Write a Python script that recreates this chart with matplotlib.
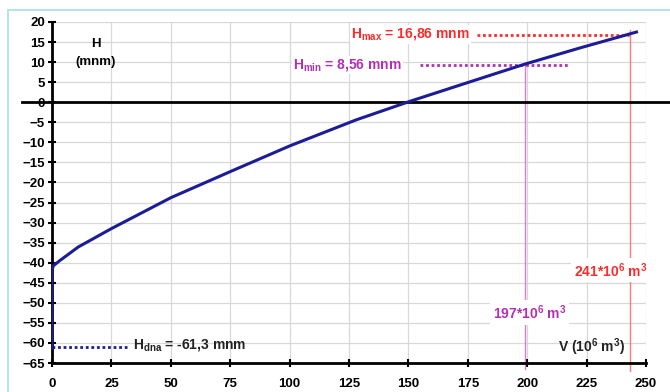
import numpy as np
import matplotlib
matplotlib.use('Agg')
import matplotlib.pyplot as plt
from matplotlib.patches import Rectangle

plt.rcParams['font.family'] = 'Liberation Sans'
plt.rcParams['font.weight'] = 'bold'
plt.rcParams['mathtext.fontset'] = 'custom'
plt.rcParams['mathtext.rm'] = 'Liberation Sans:bold'
plt.rcParams['mathtext.bf'] = 'Liberation Sans:bold'
plt.rcParams['mathtext.it'] = 'Liberation Sans:bold'

# volume (10^6 m3) vs level H (mnm)
V = [0, 0, 0.5, 3, 11, 25, 50, 75, 100, 128, 151, 176, 199, 222, 243, 246]
H = [-61.3, -42, -40.8, -39.6, -36.1, -31.5, -23.8, -17.3, -10.9, -4.4, 0.3, 5.1, 9.5, 13.5, 17.0, 17.5]

H_dna = -61.3
H_min = 8.56
H_max = 16.86
V_min = 199
V_max = 243

xticks = np.arange(0, 251, 25)
yticks = np.arange(-65, 21, 5)

blue = '#1c1c96'
mag = '#b32fb3'
red = '#ff2a2a'

fig = plt.figure(figsize=(6.7, 3.92), dpi=100)
fig.patches.append(Rectangle((8/670, -0.1), 1.2, 1 - 10/392 + 0.1, transform=fig.transFigure,
                             fill=False, edgecolor='#a8dde6', linewidth=1.2))
ax = fig.add_axes([52/670, 1 - 363/392, (646 - 52)/670, (363 - 22)/392])
ax.set_xlim(0, 250)
ax.set_ylim(-65, 20)
ax.set_xticks(xticks)
ax.set_yticks(yticks)
ax.grid(True, color='#d8d8d8', linewidth=0.9)
ax.set_axisbelow(True)
for s in ['top', 'right']:
    ax.spines[s].set_visible(False)
for s in ['left', 'bottom']:
    ax.spines[s].set_linewidth(2)
ax.tick_params(direction='inout', length=6, width=1.5, labelsize=9.5)
ax.tick_params(axis='x', pad=8)
ax.tick_params(axis='y', pad=2)

# zero line sticking out of the plot area
ax.plot([-12.6, 262], [0, 0], color='black', linewidth=2, clip_on=False, zorder=3)

# reference lines
ax.plot([0, 32], [H_dna + 0.4, H_dna + 0.4], color=blue, linestyle=(0, (1, 1)), linewidth=2, clip_on=False)
ax.plot([155, 218], [9.4, 9.4], color=mag, linestyle=(0, (1, 1)), linewidth=2)
ax.plot([179, V_max], [H_max, H_max], color=red, linestyle=(0, (1, 1)), linewidth=2)
ax.plot([V_min, V_min], [-66.5, 9.4], color='#d77fd7', linewidth=1, clip_on=False)
ax.plot([V_max + 0.3, V_max + 0.3], [-67, H_max + 1.2], color='#ff7a7a', linewidth=1, clip_on=False)

ax.plot(V, H, color=blue, linewidth=2.2, zorder=4)

ax.text(18.5, 14.5, 'H', ha='center', va='center', fontsize=9.5)
ax.text(18.5, 10, '(mnm)', ha='center', va='center', fontsize=9.5)
ax.text(126, 16.9, r'H$_{\mathrm{max}}$ = 16,86 mnm', color=red, ha='left', va='center', fontsize=10,
        bbox=dict(facecolor='white', edgecolor='none', pad=1))
ax.text(101.5, 9.3, r'H$_{\mathrm{min}}$ = 8,56 mnm', color=mag, ha='left', va='center', fontsize=10,
        bbox=dict(facecolor='white', edgecolor='none', pad=1))
ax.text(34, -60.4, r'H$_{\mathrm{dna}}$ = -61,3 mnm', color='#222222', ha='left', va='center', fontsize=10)
ax.text(201, -52.4, r'197*10$^{6}$ m$^{3}$', color=mag, ha='center', va='center', fontsize=10,
        bbox=dict(facecolor='white', edgecolor='none', pad=2))
ax.text(235, -41.9, r'241*10$^{6}$ m$^{3}$', color=red, ha='center', va='center', fontsize=10,
        bbox=dict(facecolor='white', edgecolor='none', pad=2))
ax.text(227, -61.1, r'V (10$^{6}$ m$^{3}$)', color='#222222', ha='center', va='center', fontsize=10)

fig.savefig('out.png', dpi=100)
